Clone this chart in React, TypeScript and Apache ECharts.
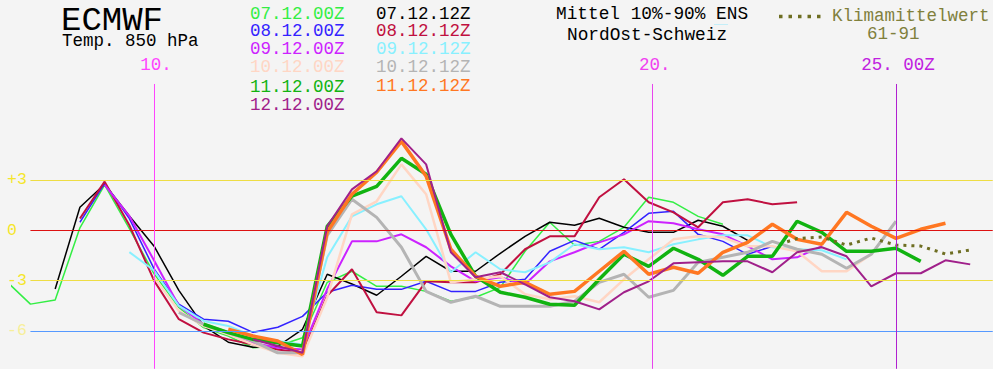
import React, { useEffect, useRef } from "react";
import * as echarts from "echarts";

// ---- data (temperature 850 hPa, °C), 12-hourly steps ----
const runNames = ["07.12.00Z", "07.12.12Z", "08.12.00Z", "08.12.12Z", "09.12.00Z", "09.12.12Z", "10.12.00Z", "10.12.12Z", "11.12.00Z", "11.12.12Z", "12.12.00Z"];
const runStarts = [7.0, 8.0, 8.5, 8.5, 9.0, 9.5, 10.0, 10.5, 11.0, 11.5, 12.0];

const run0700 = [-3.0, -4.4, -4.15, 0.15, 2.7, 0.1, -2.6, -4.6, -5.8, -6.3, -7.0, -6.9, -6.4, -3.1, -2.44, -3.34, -3.34, -3.64, -4.23, -3.99, -3.4, -1.25, 0.48, -0.89, -0.66, 0.18, 1.97, 1.67, 0.83, 0.36];
const run0712 = [-3.5, 1.37, 2.74, 0.85, -0.95, -3.58, -5.7, -6.67, -6.97, -6.91, -5.9, -2.62, -3.2, -3.87, -2.74, -1.55, -2.44, -2.44, -1.37, -0.36, 0.48, 0.3, 0.72, 0.18, -0.12, -0.12, 0.6, 0.24, -0.6];
const run0800 = [0.48, 2.8, 0.7, -2.3, -4.4, -5.3, -5.42, -6.08, -5.78, -5.13, -3.69, -3.28, -3.52, -3.52, -3.04, -3.64, -3.64, -3.1, -2.92, -1.25, -0.6, -1.13, -0.12, 1.01, 1.13, -0.24, -0.66, -1.43, -0.95];
const run0812 = [0.7, 2.9, 0.3, -3.0, -5.3, -6.1, -6.5, -6.8, -7.1, -7.3, -3.9, -2.32, -4.89, -5.07, -3.04, -3.1, -3.1, -2.62, -1.13, -0.36, -0.36, 1.97, 3.04, 1.67, 1.07, 0.18, 1.67, 1.85, 1.55, 1.67];
const run0900 = [2.7, 0.85, -1.8, -4.5, -5.6, -6.2, -6.7, -7.0, -7.1, -3.5, -0.66, -0.66, -0.24, -1.01, -2.15, -3.04, -2.8, -3.22, -1.85, -1.31, -0.72, -0.24, 0.54, 0.42, 0.06, -0.24, -0.95, -1.73, -1.61, -0.95];
const run0912 = [-1.3, -2.4, -4.5, -5.4, -5.7, -6.3, -6.6, -6.8, -1.6, 0.83, 1.55, 2.03, 0.06, -2.5, -1.31, -2.32, -2.5, -1.91, -0.83, -1.13, -1.01, -1.31, -0.83, -0.54, -0.3, -0.3, -1.01, -1.13, -1.19, -1.73];
const run1000 = [-2.8, -4.8, -5.7, -6.2, -6.8, -7.3, -7.5, -4.0, 0.95, 1.73, 3.93, 2.15, -3.1, -2.92, -2.74, -3.81, -4.11, -3.93, -4.29, -2.92, -1.73, -0.54, -0.36, -0.42, -0.95, -0.95, -1.25, -2.44, -2.44, -1.43];
const run1012 = [-4.9, -5.6, -6.1, -6.6, -7.3, -7.3, -0.3, 1.85, 0.77, -1.01, -3.64, -4.29, -3.93, -4.53, -4.53, -4.53, -4.23, -3.1, -2.62, -3.99, -3.58, -1.91, -1.61, -1.31, -0.66, -1.13, -1.43, -2.26, -1.43, 0.54];
const run1100 = [-5.6, -6.1, -6.5, -6.7, -6.9, 0.24, 2.03, 2.62, 4.29, 3.34, -0.24, -2.74, -3.69, -3.99, -4.41, -4.47, -2.92, -1.43, -2.15, -1.07, -1.73, -2.68, -1.55, -1.55, 0.54, -0.12, -1.25, -1.25, -1.07, -1.85];
const run1112 = [-5.9, -6.3, -6.6, -7.4, -0.1, 2.15, 3.46, 5.3, 3.22, -1.13, -2.74, -3.34, -3.1, -3.81, -3.64, -2.44, -1.25, -2.62, -2.2, -2.56, -1.31, -0.72, 0.36, -0.54, -0.83, 1.07, 0.24, -0.48, 0.06, 0.42];
const run1200 = [-6.5, -6.9, -7.3, 0.24, 2.44, 3.52, 5.48, 3.93, -1.31, -2.8, -2.5, -3.22, -3.99, -4.23, -4.71, -3.69, -3.04, -1.97, -1.91, -1.85, -1.85, -2.5, -1.31, -1.01, -1.55, -3.34, -2.56, -2.56, -1.79, -2.03];
const runValues = [run0700, run0712, run0800, run0812, run0900, run0912, run1000, run1012, run1100, run1112, run1200];

const climaDays = [22.8, 23.0, 23.5, 24.0, 24.5, 25.0, 25.5, 26.0, 26.5];
const climaValues = [-0.68, -0.49, -0.4, -0.88, -0.46, -0.88, -0.94, -1.41, -1.17];

const yTickValues = [3, 0, -3, -6];
const yTickLabels = ["+3", "0", "-3", "-6"];
const dayLineDays = [10, 20.08, 25];
const dayLineLabels = ["10.", "20.", "25. 00Z"];

// ---- styles ----
const runColors = ["#33ee44", "#000000", "#3322ff", "#c01040", "#cc22ff", "#88f0ff", "#ffd6c4", "#b4b4b4", "#11b311", "#ff7722", "#a0208a"];
const runWidths = [1.5, 1.5, 1.5, 2, 2, 2, 2.5, 3, 3.5, 3.5, 2];
const hLineColors = ["#eedd44", "#dd1111", "#eedd44", "#5599ff"];
const yLabelColors = ["#f5e62a", "#f5e62a", "#f5e62a", "#f7ef9a"];
const dayLineColors = ["#ff44ff", "#e844ee", "#b020d0"];
const dayLabelColors = ["#ff44ff", "#f040f0", "#c020e0"];
const climaColor = "#6e6e22";
const climaTextColor = "#80803c";

const X_MIN = 7.127;
const X_MAX = 26.961;
const Y_MIN = -8.266;
const Y_MAX = 13.725;
const MONO = '"Liberation Mono", "DejaVu Sans Mono", monospace';

export default function App() {
  const ref = useRef<HTMLDivElement>(null);

  useEffect(() => {
    const chart = echarts.init(ref.current!, null, { renderer: "svg" });

    const lineSeries = runNames.map((name, i) => ({
      name,
      type: "line",
      data: runValues[i].map((v, k) => [runStarts[i] + k * 0.5, v]),
      showSymbol: false,
      symbol: "none",
      clip: true,
      silent: true,
      z: 2,
      lineStyle: { color: runColors[i], width: runWidths[i] },
    }));

    const refLines: any[] = [];
    yTickValues.forEach((v, i) => {
      const ls = { color: hLineColors[i], width: 1, type: "solid" };
      refLines.push([
        { coord: [7.5, v], lineStyle: ls },
        { coord: [X_MAX - 0.005, v], lineStyle: ls },
      ]);
    });
    dayLineDays.forEach((d, i) => {
      const ls = { color: dayLineColors[i], width: 1, type: "solid" };
      refLines.push([
        { coord: [d, 8.72], lineStyle: ls },
        { coord: [d, Y_MIN + 0.01], lineStyle: ls },
      ]);
    });

    const option: any = {
      animation: false,
      backgroundColor: "#f4f4f4",
      grid: { left: 12, right: 0, top: 0, bottom: 0, containLabel: false },
      xAxis: {
        type: "value",
        min: X_MIN,
        max: X_MAX,
        show: false,
        splitLine: { show: false },
      },
      yAxis: {
        type: "value",
        min: Y_MIN,
        max: Y_MAX,
        show: false,
        splitLine: { show: false },
      },
      series: [
        {
          name: "ref",
          type: "line",
          data: [],
          silent: true,
          z: 1,
          markLine: {
            silent: true,
            animation: false,
            symbol: ["none", "none"],
            label: { show: false },
            emphasis: { disabled: true },
            data: refLines,
          },
        },
        ...lineSeries,
        {
          name: "Klimamittelwert",
          type: "line",
          data: climaDays.map((d, i) => [d, climaValues[i]]),
          showSymbol: false,
          symbol: "none",
          silent: true,
          z: 3,
          lineStyle: { color: climaColor, width: 3, type: [3, 5], cap: "butt" },
        },
      ],
    };

    chart.setOption(option);

    const toPx = (x: number, y: number) =>
      chart.convertToPixel({ gridIndex: 0 }, [x, y]) as number[];

    const txt = (text: string, x: number, y: number, color: string, size: number, align = "left") => ({
      type: "text",
      x,
      y,
      silent: true,
      z: 10,
      style: {
        text,
        fill: color,
        font: `${size}px ${MONO}`,
        align,
        verticalAlign: "middle",
        textAlign: align,
        textVerticalAlign: "middle",
      },
    });

    const g: any[] = [];
    g.push(txt("ECMWF", 61, 20.5, "#000000", 34));
    g.push(txt("Temp. 850 hPa", 62, 41, "#000000", 17.5));

    // legend, column 1 (00Z runs) and column 2 (12Z runs)
    const col1 = [0, 2, 4, 6, 8, 10];
    const col1Y = [13.5, 30.5, 48.5, 66.5, 86.5, 104.5];
    col1.forEach((ri, k) => g.push(txt(runNames[ri], 250, col1Y[k], runColors[ri], 17.5)));
    const col2 = [1, 3, 5, 7, 9];
    const col2Y = [14, 30.5, 48.5, 67, 85.5];
    col2.forEach((ri, k) => g.push(txt(runNames[ri], 376, col2Y[k], runColors[ri], 17.5)));

    g.push(txt("Mittel 10%-90% ENS", 556, 14, "#000000", 17.8));
    g.push(txt("NordOst-Schweiz", 567, 35, "#000000", 17.8));
    g.push({
      type: "line",
      silent: true,
      z: 10,
      shape: { x1: 714, y1: 24.5, x2: 728, y2: 24.5 },
      style: { stroke: "#c4eef8", lineWidth: 1 },
    });

    g.push({
      type: "line",
      silent: true,
      z: 10,
      shape: { x1: 779, y1: 16.5, x2: 823, y2: 16.5 },
      style: { stroke: climaColor, lineWidth: 3.5, lineDash: [3.5, 6] },
    });
    g.push(txt("Klimamittelwert", 832, 16, climaTextColor, 17.5));
    g.push(txt("61-91", 867, 33.5, climaTextColor, 17.5));

    // y tick labels
    yTickValues.forEach((v, i) => {
      const p = toPx(X_MIN, v);
      g.push(txt(yTickLabels[i], 7, p[1], yLabelColors[i], 16.5));
    });

    // day labels
    dayLineDays.forEach((d, i) => {
      const p = toPx(d, 0);
      g.push(txt(dayLineLabels[i], p[0] + 2, 65, dayLabelColors[i], 17.5, "center"));
    });

    chart.setOption({ graphic: g });

    return () => chart.dispose();
  }, []);

  return (
    <div
      ref={ref}
      style={{ position: "absolute", left: 0, top: 0, width: 993, height: 369 }}
    />
  );
}
